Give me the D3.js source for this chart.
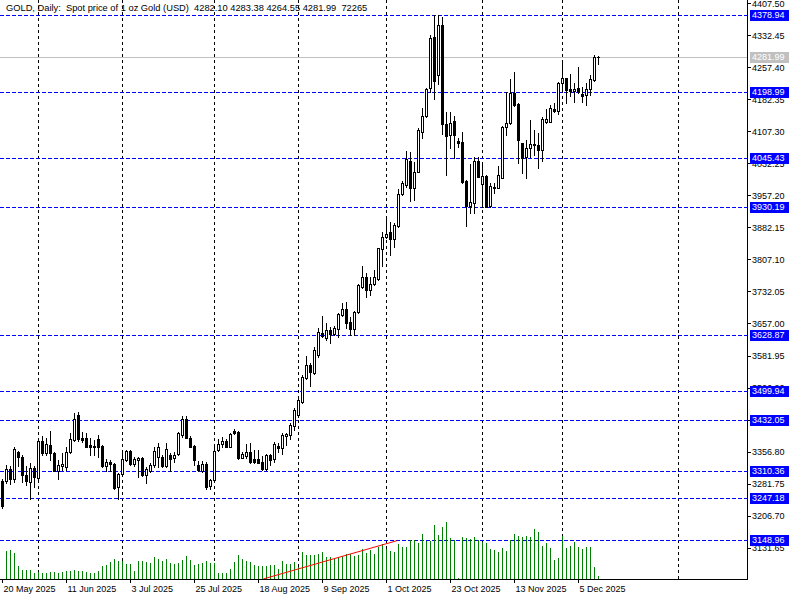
<!DOCTYPE html>
<html><head><meta charset="utf-8">
<script src="https://cdn.jsdelivr.net/npm/d3@7"></script>
<style>
html,body{margin:0;padding:0;background:#fff;}
svg{display:block;font-family:"Liberation Sans",Arial,sans-serif;}
</style></head><body>
<svg id="c" width="800" height="600"></svg>
<script>
// ---------------- DATA ----------------
const titleText = "GOLD, Daily:  Spot price of 1 oz Gold (USD)  4282.10 4283.38 4264.55 4281.99  72265";
const firstSession = "2025-05-20";
const lastSession = "2025-12-12";
const extraSessions = ["2025-10-26"]; // Sunday session bar

const open = [3288.7,3288.7,3315.3,3293.4,3355.1,3343.4,3301.2,3286.4,3317.6,3294.0,
3381.7,3352.8,3372.3,3352.8,3312.2,3323.9,3321.5,3355.1,3384.0,3442.6,
3389.5,3389.5,3372.3,3370.7,3386.4,3370.0,3323.9,3333.3,3327.0,3274.7,
3304.4,3337.2,3358.2,3327.0,3337.2,3341.1,3301.2,3312.2,3325.4,3345.0,
3343.4,3323.1,3348.9,3341.1,3351.2,3395.7,3432.4,3389.5,3370.0,3325.4,
3312.2,3327.8,3276.2,3290.3,3360.6,3373.9,3382.5,3368.4,3405.1,3403.5,
3342.6,3346.5,3356.7,3338.7,3338.8,3333.3,3315.3,3349.0,3338.8,3370.8,
3366.1,3394.2,3395.8,3417.6,3442.6,3473.8,3530.1,3559.8,3541.8,3584.0,
3633.9,3623.8,3641.8,3632.4,3643.3,3676.9,3690.2,3659.7,3643.3,3683.1,
3743.3,3765.1,3735.5,3748.7,3760.4,3830.7,3858.8,3870.6,3854.9,3886.2,
3959.6,3981.4,4037.7,3975.2,4012.7,4106.4,4143.1,4207.9,4327.4,4239.2,
4356.3,4123.6,4098.6,4131.4,4085.3,4083.0,3990.8,3933.0,3938.5,4037.6,
3983.8,4002.5,3932.3,3973.6,3975.2,3998.6,4116.5,4125.9,4197.8,4170.4,
4079.1,4046.3,4067.3,4074.4,4075.2,4063.4,4129.8,4129.8,4158.7,4155.6,
4221.2,4231.3,4205.6,4202.4,4207.9,4194.6,4192.3,4206.4,4227.4,4282.10];
const high = [3291.9,3325.4,3323.9,3368.4,3359.0,3348.9,3323.1,3330.9,3323.1,3384.0,
3393.4,3387.9,3405.1,3356.7,3337.2,3352.8,3368.4,3399.6,3446.5,3450.4,
3402.0,3399.6,3387.9,3384.0,3395.7,3371.5,3338.7,3337.2,3329.4,3305.9,
3358.2,3360.6,3360.6,3345.0,3345.0,3343.4,3321.5,3330.9,3368.4,3377.8,
3348.9,3377.8,3352.8,3356.7,3403.5,3440.2,3440.2,3393.4,3371.5,3335.6,
3335.6,3333.3,3291.9,3368.4,3385.6,3390.3,3385.6,3401.2,3409.0,3405.1,
3356.7,3374.7,3376.2,3360.6,3360.6,3346.5,3351.3,3351.3,3379.4,3377.8,
3399.7,3401.2,3424.6,3458.2,3481.7,3536.3,3580.8,3565.2,3602.7,3645.7,
3674.5,3657.4,3649.6,3651.1,3682.4,3705.8,3708.1,3673.0,3686.3,3748.7,
3791.7,3776.1,3766.7,3782.3,3834.6,3872.1,3903.4,3895.5,3891.6,3971.3,
3990.8,4061.1,4059.5,4036.1,4115.8,4161.1,4207.9,4332.9,4379.7,4379.7,
4375.8,4153.3,4153.3,4143.9,4090.8,4106.4,3992.4,4030.6,4047.8,4047.8,
4030.6,4004.9,3985.3,3985.3,4025.9,4119.7,4200.1,4229.0,4247.0,4172.8,
4080.6,4086.9,4133.7,4110.3,4102.5,4141.5,4158.7,4168.9,4172.8,4223.5,
4268.0,4232.9,4240.7,4219.6,4258.7,4211.8,4219.6,4239.2,4286.0,4283.38];
const low = [3223.9,3282.5,3280.9,3286.4,3323.1,3286.4,3278.6,3246.6,3273.1,3288.7,
3348.9,3348.9,3337.2,3310.6,3293.4,3313.7,3313.7,3352.8,3382.5,3382.5,
3380.1,3366.8,3348.9,3348.9,3345.0,3321.5,3312.2,3312.2,3269.2,3246.6,
3302.8,3334.8,3325.4,3323.9,3298.1,3299.7,3282.5,3309.8,3321.5,3321.5,
3321.5,3321.5,3312.2,3333.3,3348.9,3391.8,3387.9,3366.8,3325.4,3312.2,
3309.8,3268.4,3268.4,3288.7,3359.0,3368.4,3366.8,3366.8,3398.1,3338.7,
3341.1,3341.1,3329.4,3329.4,3329.4,3313.8,3313.8,3325.5,3331.6,3356.7,
3351.3,3372.3,3385.6,3407.5,3438.7,3469.9,3526.2,3510.5,3538.7,3579.3,
3626.1,3618.3,3612.1,3630.0,3626.1,3674.5,3645.7,3630.0,3630.0,3682.4,
3739.4,3718.3,3723.0,3747.2,3758.9,3791.7,3856.5,3817.5,3837.0,3883.8,
3958.0,3977.5,3944.0,3946.3,4011.1,4090.8,4141.5,4198.5,4182.9,4218.1,
4100.1,4004.9,4067.3,4043.9,4071.3,3986.9,3886.2,3915.1,3915.1,3999.4,
3930.7,3929.1,3930.7,3963.5,3973.6,3997.1,4098.6,4124.4,4166.5,4032.2,
4008.8,3997.1,4047.8,4051.7,4020.5,4038.4,4127.5,4128.3,4153.2,4147.8,
4200.1,4172.8,4189.9,4176.7,4196.2,4176.7,4168.9,4192.3,4225.9,4264.55];
const close = [3229.4,3315.3,3293.4,3362.9,3343.4,3301.2,3288.7,3317.6,3296.5,3381.7,
3352.8,3374.7,3352.8,3312.2,3325.4,3327.0,3355.1,3386.4,3433.2,3385.6,
3384.0,3368.4,3368.4,3366.8,3368.4,3323.9,3333.3,3327.0,3270.8,3304.4,
3338.7,3358.2,3327.8,3338.7,3341.1,3301.2,3316.1,3325.4,3358.2,3366.8,
3323.1,3362.2,3338.7,3348.9,3399.6,3432.4,3389.5,3368.4,3337.2,3313.7,
3327.8,3273.1,3290.3,3358.2,3373.9,3382.5,3368.4,3397.3,3399.6,3341.1,
3350.4,3356.7,3333.3,3333.3,3330.9,3315.3,3349.0,3337.2,3374.7,3366.1,
3395.8,3398.1,3419.2,3454.3,3477.7,3532.4,3559.8,3544.1,3594.9,3636.3,
3627.7,3641.8,3632.4,3645.7,3678.4,3690.2,3658.9,3643.3,3684.7,3746.4,
3765.1,3735.5,3749.5,3766.7,3833.1,3858.8,3866.6,3854.9,3887.7,3960.4,
3985.3,4042.4,3975.2,4012.7,4110.3,4143.1,4205.6,4326.6,4225.1,4356.3,
4123.6,4097.0,4127.5,4098.6,4080.6,3989.2,3933.0,3940.8,4037.6,4001.0,
4002.5,3930.7,3979.1,3977.5,4004.9,4116.5,4125.9,4197.8,4168.9,4086.9,
4043.9,4067.3,4076.7,4076.7,4063.4,4135.3,4135.3,4161.1,4154.8,4219.6,
4231.3,4204.0,4202.4,4205.6,4201.6,4189.9,4206.4,4229.0,4282.1,4281.99];
// tick volume, thousands
const volumeK = [0,672,696,617,319,216,216,216,137,161,
144,144,168,168,151,168,185,185,209,185,
185,168,151,151,185,319,336,408,480,432,
425,367,367,199,432,432,415,384,535,480,
425,473,384,353,391,456,552,456,343,360,
377,439,391,377,151,151,144,233,408,576,
480,432,408,336,319,319,319,336,336,240,
432,360,360,408,295,648,576,576,583,600,
648,528,528,487,535,545,593,607,559,576,
713,631,689,600,775,840,727,665,648,840,
768,768,929,929,864,1080,905,905,1296,1056,
1248,1368,991,929,17,1015,984,953,1008,929,
888,864,720,696,648,744,672,936,1080,1039,
1001,1032,1015,1200,1128,799,864,744,456,504,
1032,751,799,888,768,720,768,768,288,72.265];

const levelPrices = [4378.94, 4198.99, 4045.43, 3930.19, 3628.87, 3499.94, 3432.05, 3310.36, 3247.18, 3148.96];
const bidPrice = 4281.99;
const priceTicks = [4407.50,4332.45,4257.40,4182.35,4107.30,4032.25,3957.20,3882.15,3807.10,3732.05,3657.00,3581.95,3506.90,3431.85,3356.80,3281.75,3206.70,3131.65];
const dateTickBars = [0,16,32,48,64,80,96,112,128,144];
const trendPoints = [{bar: 65.3, price: 3058.4}, {bar: 98.7, price: 3148.1}];

// ---------------- LAYOUT ----------------
const W = 800, H = 600;
const plotRight = 747, plotBottom = 579;
const svg = d3.select("#c");

const parse = d3.timeParse("%Y-%m-%d");
let dates = d3.timeDay.range(parse(firstSession), d3.timeDay.offset(parse(lastSession), 1))
  .filter(d => d.getDay() !== 0 && d.getDay() !== 6);
extraSessions.forEach(s => dates.push(parse(s)));
dates.sort((a, b) => a - b);

const bars = open.map((o, i) => ({i, o, h: high[i], l: low[i], c: close[i], v: volumeK[i], date: dates[i]}));
const lastIdx = bars.length - 1;

const x = d3.scaleLinear().domain([0, 186]).range([2, 746]);
const y = d3.scaleLinear().domain([4414.86, 3058.4]).range([0, plotBottom]);
const vy = d3.scaleLinear().domain([0, d3.max(volumeK)]).range([plotBottom, plotBottom - 57]);

svg.append("rect").attr("width", W).attr("height", H).attr("fill", "#fff");

svg.append("defs").append("clipPath").attr("id", "plot")
  .append("rect").attr("x", 0).attr("y", 0).attr("width", plotRight).attr("height", plotBottom);

const plot = svg.append("g").attr("clip-path", "url(#plot)").attr("shape-rendering", "crispEdges");

// month grid lines
const months = d3.timeMonth.range(new Date(2025, 5, 1), new Date(2026, 1, 1));
months.forEach(m => {
  let idx = dates.findIndex(d => d >= m);
  if (idx < 0) idx = lastIdx + d3.timeDay.count(dates[lastIdx], m);
  const gx = Math.round(x(idx)) + 0.5;
  plot.append("line").attr("x1", gx).attr("x2", gx).attr("y1", 0).attr("y2", plotBottom)
    .attr("stroke", "#000").attr("stroke-width", 1).attr("stroke-dasharray", "3,3");
});

// bid line
plot.append("line").attr("x1", 0).attr("x2", plotRight)
  .attr("y1", Math.round(y(bidPrice)) + 0.5).attr("y2", Math.round(y(bidPrice)) + 0.5)
  .attr("stroke", "#c0c0c0");

// level lines
plot.selectAll("line.level").data(levelPrices).join("line").attr("class", "level")
  .attr("x1", 0).attr("x2", plotRight)
  .attr("y1", d => Math.round(y(d)) + 0.5).attr("y2", d => Math.round(y(d)) + 0.5)
  .attr("stroke", "#0000ff").attr("stroke-dasharray", "4,2");

// volumes
plot.selectAll("rect.vol").data(bars.filter(b => b.v > 0)).join("rect").attr("class", "vol")
  .attr("x", d => Math.round(x(d.i)))
  .attr("width", 1)
  .attr("y", d => Math.round(vy(d.v)))
  .attr("height", d => plotBottom - Math.round(vy(d.v)))
  .attr("fill", "#008000");

// trendline
plot.append("line")
  .attr("x1", x(trendPoints[0].bar)).attr("y1", y(trendPoints[0].price))
  .attr("x2", x(trendPoints[1].bar)).attr("y2", y(trendPoints[1].price))
  .attr("stroke", "#ff0000").attr("stroke-width", 1).attr("shape-rendering", "auto");

// candles
const cg = plot.append("g");
bars.forEach(b => {
  const cx = Math.round(x(b.i));
  const yh = Math.round(y(b.h)), yl = Math.round(y(b.l));
  const yt = Math.round(y(Math.max(b.o, b.c))), yb = Math.round(y(Math.min(b.o, b.c)));
  cg.append("line").attr("x1", cx + 0.5).attr("x2", cx + 0.5).attr("y1", yh).attr("y2", yl + 1)
    .attr("stroke", "#000");
  if (b.c >= b.o) {
    if (yb - yt >= 2) {
      cg.append("rect").attr("x", cx - 0.5).attr("y", yt + 0.5).attr("width", 2).attr("height", yb - yt)
        .attr("fill", "#fff").attr("stroke", "#000");
    } else {
      cg.append("rect").attr("x", cx - 1).attr("y", yt).attr("width", 3).attr("height", Math.max(1, yb - yt + 1)).attr("fill", "#000");
    }
  } else {
    cg.append("rect").attr("x", cx - 1).attr("y", yt).attr("width", 3).attr("height", Math.max(1, yb - yt + 1))
      .attr("fill", "#000");
  }
});

// axes lines
svg.append("line").attr("x1", plotRight + 0.5).attr("x2", plotRight + 0.5).attr("y1", 0).attr("y2", plotBottom + 1)
  .attr("stroke", "#000").attr("shape-rendering", "crispEdges");
svg.append("line").attr("x1", 0).attr("x2", plotRight + 1).attr("y1", plotBottom + 0.5).attr("y2", plotBottom + 0.5)
  .attr("stroke", "#000").attr("shape-rendering", "crispEdges");

// price axis
const yAxis = d3.axisRight(y).tickValues(priceTicks).tickSize(4).tickPadding(1).tickFormat(d3.format(".2f"));
const ya = svg.append("g").attr("transform", `translate(${plotRight},0)`).call(yAxis);
ya.select(".domain").remove();
ya.selectAll("line").attr("shape-rendering", "crispEdges");
ya.selectAll("text").attr("font-size", 9).attr("font-family", "Liberation Sans, Arial, sans-serif").attr("fill", "#000");

// date axis
const fmt = d3.timeFormat("%-d %b %Y");
const xAxis = d3.axisBottom(x).tickValues(dateTickBars).tickSize(4).tickPadding(3).tickFormat(i => fmt(dates[i]));
const xa = svg.append("g").attr("transform", `translate(0,${plotBottom})`).call(xAxis);
xa.select(".domain").remove();
xa.selectAll("line").attr("shape-rendering", "crispEdges");
xa.selectAll("text").attr("text-anchor", "start").attr("x", 1)
  .attr("font-size", 9).attr("font-family", "Liberation Sans, Arial, sans-serif").attr("fill", "#000");

// level labels
const lab = svg.append("g");
levelPrices.forEach(p => {
  const ly = Math.round(y(p));
  lab.append("rect").attr("x", 750).attr("y", ly - 5).attr("width", 39).attr("height", 11).attr("fill", "#0000ff");
  lab.append("text").attr("x", 752).attr("y", ly).attr("dy", "0.35em").attr("font-size", 9).attr("fill", "#fff").text(p.toFixed(2));
});
{
  const ly = Math.round(y(bidPrice));
  lab.append("rect").attr("x", 750).attr("y", ly - 5).attr("width", 39).attr("height", 11).attr("fill", "#c0c0c0");
  lab.append("text").attr("x", 752).attr("y", ly).attr("dy", "0.35em").attr("font-size", 9).attr("fill", "#fff").text(bidPrice.toFixed(2));
}

// title
svg.append("text").attr("x", 6).attr("y", 11).attr("font-size", 9.3).attr("fill", "#000")
  .style("white-space", "pre").text(titleText);
</script>
</body></html>
